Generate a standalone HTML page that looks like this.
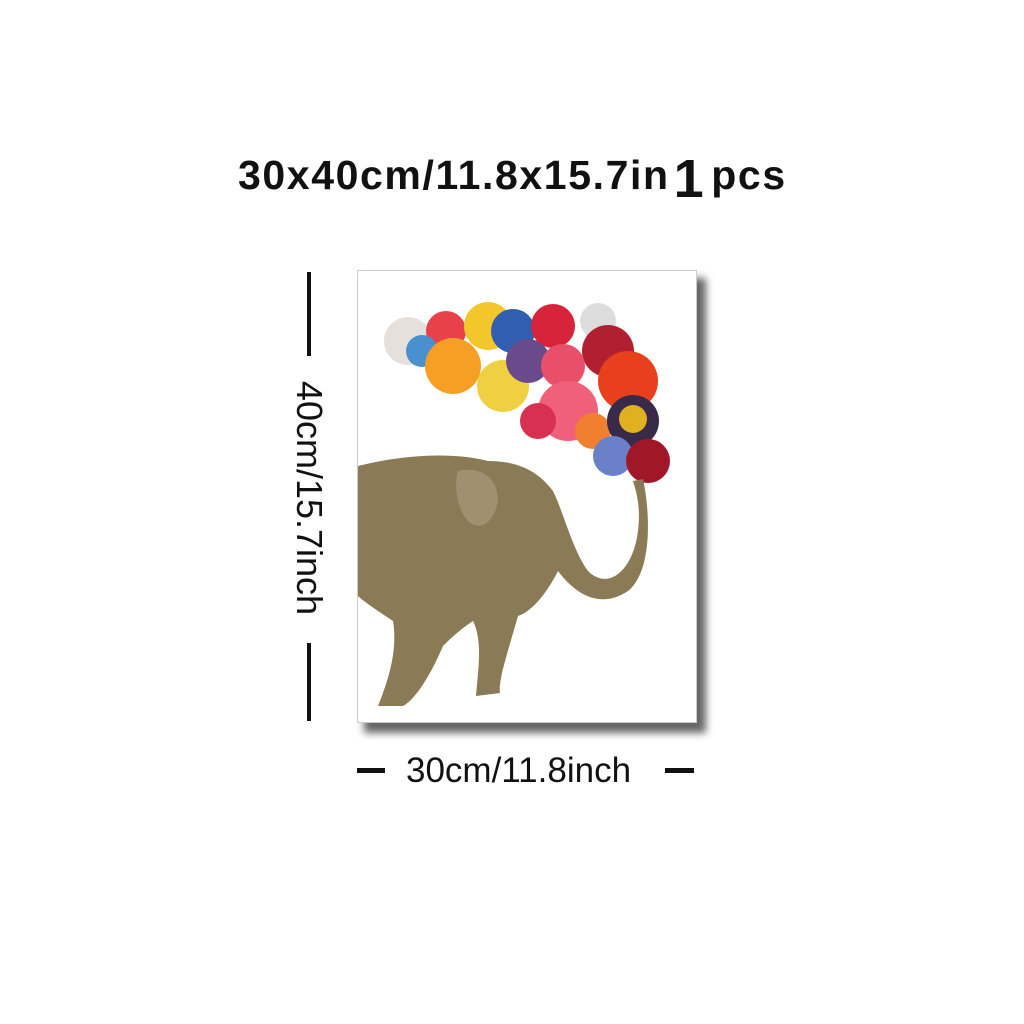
<!DOCTYPE html>
<html><head><meta charset="utf-8"><style>
body{margin:0;width:1024px;height:1024px;background:#fff;position:relative;overflow:hidden;font-family:"Liberation Sans",sans-serif;}
.abs{position:absolute}
</style></head><body>
<div class="abs" style="left:238px;top:140px;font-size:41px;font-weight:bold;color:#111;letter-spacing:1.6px;white-space:nowrap;">30x40cm/11.8x15.7in<span style="font-size:54px;position:relative;top:8px;margin:0 6px 0 4px;">1</span>pcs</div>
<div class="abs" style="left:364px;top:278px;width:342px;height:455px;background:#666;filter:blur(4px);"></div>
<div class="abs" style="left:357px;top:270px;width:340px;height:453px;background:#fff;border:1px solid #ccc;box-sizing:border-box;overflow:hidden;">
<svg width="340" height="453">
<g>
<circle cx="50" cy="70" r="24" fill="#e6e0dc"/>
<circle cx="88" cy="60" r="20" fill="#e8414a"/>
<circle cx="64" cy="80" r="16" fill="#4a8fd0"/>
<circle cx="95" cy="95" r="28" fill="#f5a024"/>
<circle cx="130" cy="55" r="24" fill="#f3c62c"/>
<circle cx="155" cy="60" r="22" fill="#2f5fae"/>
<circle cx="195" cy="55" r="22" fill="#d8243a"/>
<circle cx="240" cy="50" r="18" fill="#ddd"/>
<circle cx="250" cy="80" r="26" fill="#b02030"/>
<circle cx="145" cy="115" r="26" fill="#f0d040"/>
<circle cx="170" cy="90" r="22" fill="#6a4a8a"/>
<circle cx="205" cy="95" r="22" fill="#e8506a"/>
<circle cx="210" cy="140" r="30" fill="#f0607a"/>
<circle cx="270" cy="110" r="30" fill="#e8401c"/>
<circle cx="235" cy="160" r="18" fill="#f08030"/>
<circle cx="275" cy="150" r="26" fill="#3a2a4a"/>
<circle cx="275" cy="148" r="14" fill="#e0b020"/>
<circle cx="255" cy="185" r="20" fill="#6a80c8"/>
<circle cx="290" cy="190" r="22" fill="#a01828"/>
<circle cx="180" cy="150" r="18" fill="#d83050"/>
</g>
<g fill="#8a7a55">
<path d="M0 195 C40 185 90 180 130 190 C160 190 180 200 195 220 C205 240 215 280 230 300 C250 320 275 300 280 260 C283 235 278 220 275 210 L285 208 C292 240 295 300 270 320 C240 340 215 320 200 300 C190 320 175 340 160 345 C150 380 140 410 142 422 L118 425 C120 400 125 370 115 350 C100 360 90 370 85 375 C70 410 55 430 45 435 L20 435 C30 410 40 380 35 350 C20 340 5 330 0 325 Z"/>
<path d="M100 200 C120 195 140 205 140 230 C135 255 120 260 110 250 C100 240 95 215 100 200 Z" fill="#a09070"/>
</g>
</svg>
</div>
<div class="abs" style="left:307px;top:272px;width:4px;height:84px;background:#111;"></div>
<div class="abs" style="left:309px;top:498px;transform:translate(-50%,-50%) rotate(90deg);font-size:36px;color:#111;white-space:nowrap;">40cm/15.7inch</div>
<div class="abs" style="left:307px;top:643px;width:4px;height:78px;background:#111;"></div>
<div class="abs" style="left:357px;top:768px;width:28px;height:5px;background:#111;"></div>
<div class="abs" style="left:406px;top:751px;font-size:35px;color:#111;white-space:nowrap;">30cm/11.8inch</div>
<div class="abs" style="left:665px;top:768px;width:29px;height:5px;background:#111;"></div>
</body></html>
